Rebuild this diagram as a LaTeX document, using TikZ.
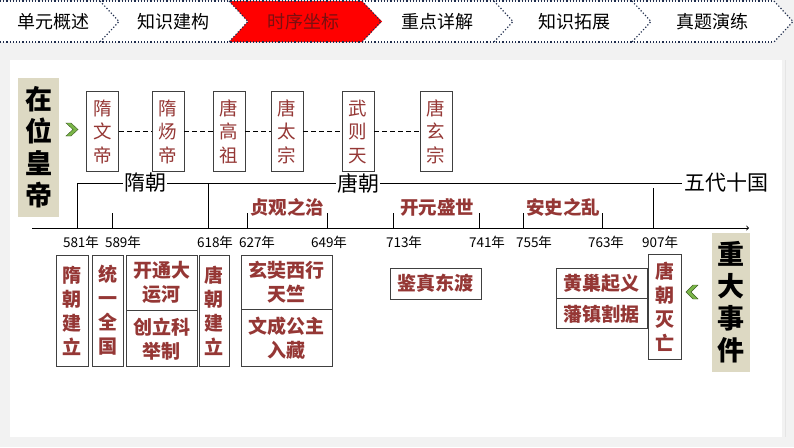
\documentclass[tikz,border=0pt]{standalone}
\usepackage{fontspec}
\setmainfont{Noto Sans CJK SC}
\usetikzlibrary{positioning}

\definecolor{pagegray}{HTML}{F2F2F2}
\definecolor{tabred}{HTML}{FF0000}
\definecolor{tabtext}{HTML}{7A1010}
\definecolor{dotblue}{HTML}{1F2D4D}
\definecolor{eventred}{HTML}{953735}
\definecolor{titlebeige}{HTML}{DDD9C3}
\definecolor{arrowgreen}{HTML}{7AB648}

\tikzset{
  tab/.style={font=\fontsize{18}{20}\selectfont, inner sep=0pt},
  ruler/.style={draw=dotblue, line width=1.2pt, dotted},
  titlebox/.style={fill=titlebeige, font=\fontsize{27}{32}\selectfont\bfseries, align=center, inner sep=0pt},
  emperor/.style={draw=black!75, line width=0.8pt, fill=white, text=eventred,
    font=\fontsize{18.5}{23.5}\selectfont, align=center, inner sep=0pt,
    minimum width=32, minimum height=80},
  event/.style={draw=black!75, line width=0.8pt, fill=white, text=eventred,
    font=\fontsize{19}{24}\selectfont\bfseries, align=center, inner sep=0pt},
  era/.style={text=eventred, font=\fontsize{18.5}{20}\selectfont\bfseries, inner sep=1pt},
  year/.style={font=\fontsize{13.5}{15}\selectfont, inner sep=0pt},
  dynasty/.style={fill=white, font=\fontsize{21}{23}\selectfont, inner sep=1pt},
  chevron/.style={fill=arrowgreen, draw=arrowgreen!50!black, line width=0.4pt},
}

\begin{document}
\begin{tikzpicture}[x=1pt,y=-1pt]
% Page
\fill[pagegray] (0,0) rectangle (794,447);
\useasboundingbox (0,0) rectangle (794,447);
\fill[white] (10,60) rectangle (782,437);
\draw[black!10, line width=1pt] (785,60) -- (785,437);

% Navigation bar
\fill[white] (0,1) -- (774,1) -- (792,21.5) -- (774,42) -- (0,42) -- cycle;
\fill[tabred] (229,1) -- (362,1) -- (382,21.5) -- (362,42) -- (229,42) -- (248,21.5) -- cycle;
\draw[ruler] (0,1) -- (774,1);
\draw[ruler] (0,42) -- (774,42);
\foreach \x in {100,362,494,632,774} {
    \draw[ruler] (\x,1) -- (\x+19,21.5) -- (\x,42);
}
\draw[ruler] (229,1) -- (248,21.5) -- (229,42);
\foreach \x/\txt [count=\i] in {53/单元概述, 173/知识建构, 437/重点详解, 574/知识拓展, 712/真题演练} {
    \node[tab] (nav\i) at (\x,21.5) {\txt};
}
\node[tab, text=tabtext] (navred) at (303,21.5) {时序坐标};

% Emperors
\node[titlebox, minimum width=41, minimum height=139] (emplabel) at (38.5,147.5) {在\\位\\皇\\帝};
\fill[chevron] (66,123) -- (71,123) -- (78,129.5) -- (71,136) -- (66,136) -- (73,129.5) -- cycle;
\foreach \x/\txt [count=\i] in {102.5/隋\\文\\帝, 168/隋\\炀\\帝, 229/唐\\高\\祖, 287/唐\\太\\宗, 358/武\\则\\天, 436/唐\\玄\\宗} {
    \node[emperor] (emp\i) at (\x,131.5) {\txt};
}
\foreach \i [evaluate=\i as \j using int(\i+1)] in {1,...,5} {
    \draw[dashed, dash pattern=on 5pt off 3pt] (emp\i.east) -- (emp\j.west);
}

% Dynasties
\coordinate (suistart) at (77,183);
\coordinate (tangstart) at (208,183);
\coordinate (wdstart) at (653,188);
\node[anchor=west, font=\fontsize{21}{23}\selectfont, inner sep=2pt] (wudai) at (682,183) {五代十国};
\draw[line width=0.9pt] (suistart) -- (wudai.west);
\node[dynasty] (sui) at (145,183) {隋朝};
\node[dynasty] (tang) at (358,183) {唐朝};

% Time axis
\coordinate (axisL) at (32,228);
\coordinate (axisR) at (749,228);
\draw[line width=0.9pt, ->] (axisL) -- (axisR);
\foreach \x/\yr in {77/581, 112/589, 208/618, 247/627, 327/649, 393/713, 479/741, 523/755, 602/763, 653/907} {
    \coordinate (y\yr) at (\x,228);
}
\draw[line width=0.9pt] (suistart) -- (y581);
\draw[line width=0.9pt] (tangstart) -- (y618);
\draw[line width=0.9pt] (wdstart) -- (y907);
\foreach \yr in {589,627,649,713,741,755,763} {
    \draw[line width=0.9pt] (y\yr) -- ++(0,-15);
}
\foreach \x/\yr in {81/581, 123/589, 215/618, 257/627, 329/649, 404/713, 487/741, 534/755, 606/763, 660/907} {
    \node[year] (lab\yr) at (\x,242) {\yr 年};
}
\node[era] (zhenguan) at (287,207) {贞观之治};
\node[era] (kaiyuan) at (437,207) {开元盛世};
\node[era] (anshi) at (563,207) {安史之乱};

% Events
\node[event, minimum width=32, minimum height=111] (suijian) at (72,310.5) {隋\\朝\\建\\立};
\node[event, minimum width=31, minimum height=111] (tongyi) at (107.5,310.5) {统\\一\\全\\国};
\node[event, minimum width=71, minimum height=55] (yunhe) at (161.5,282.5) {开通大\\运河};
\node[event, minimum width=71, minimum height=56, below=0pt of yunhe] (keju) {创立科\\举制};
\node[event, minimum width=30, minimum height=111] (tangjian) at (214,310.5) {唐\\朝\\建\\立};
\node[event, minimum width=91, minimum height=54] (xuanzang) at (286.5,282) {玄奘西行\\天竺};
\node[event, minimum width=91, minimum height=57, below=0pt of xuanzang] (wencheng) {文成公主\\入藏};
\node[event, minimum width=91, minimum height=31] (jianzhen) at (435.5,283.5) {鉴真东渡};
\node[event, minimum width=91, minimum height=30] (huangchao) at (601.5,283) {黄巢起义};
\node[event, minimum width=91, minimum height=30, below=0pt of huangchao] (fanzhen) {藩镇割据};
\node[event, minimum width=33, minimum height=105] (tangmie) at (664.5,306.5) {唐\\朝\\灭\\亡};
\fill[chevron] (698,285) -- (693,285) -- (686,292) -- (693,299) -- (698,299) -- (691,292) -- cycle;
\node[titlebox, minimum width=38, minimum height=139] (eventlabel) at (731,302.5) {重\\大\\事\\件};
\end{tikzpicture}
\end{document}
